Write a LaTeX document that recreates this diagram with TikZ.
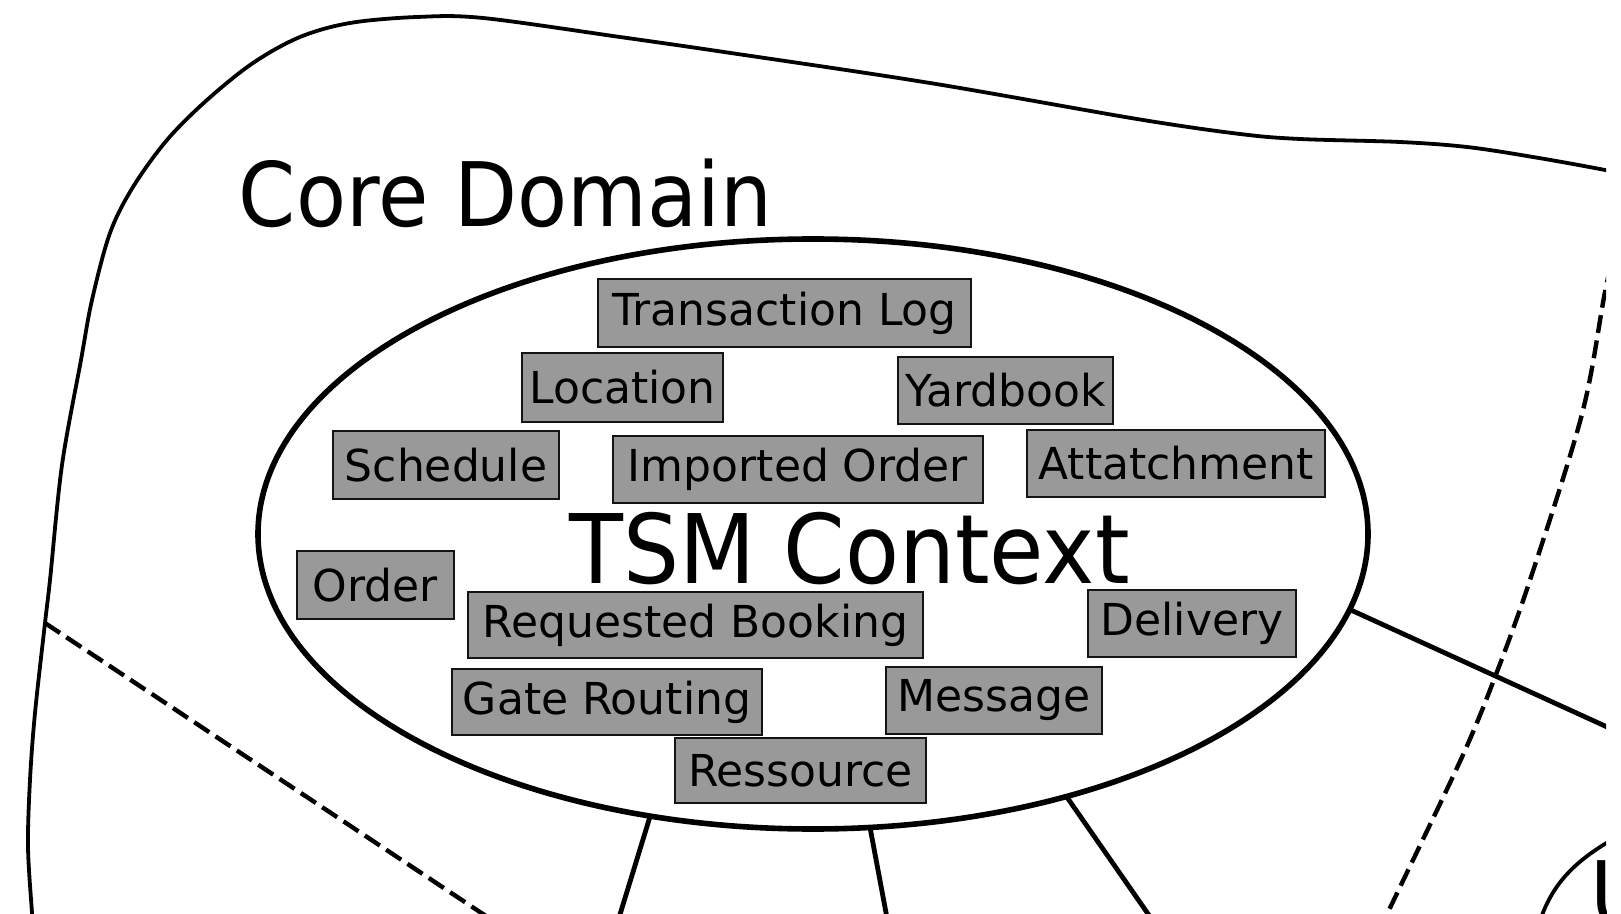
\documentclass[tikz,border=0pt]{standalone}
\usepackage{fontspec}
\setmainfont{DejaVu Sans}
\newfontfamily\narrowsans{DejaVu Sans}[FakeStretch=0.92]
\usetikzlibrary{shapes.geometric}
\definecolor{entityfill}{HTML}{999999}
\definecolor{entityline}{HTML}{141414}
\begin{document}
\begin{tikzpicture}[x=0.5pt,y=-0.5pt,
  boundary/.style={line width=1.9pt, line join=round},
  split/.style={line width=2.2pt, dash pattern=on 9pt off 3.8pt},
  link/.style={line width=2.4pt},
  context/.style={draw, ellipse, line width=2.8pt, inner sep=0pt, outer sep=0pt},
  entity/.style={draw=entityline, fill=entityfill, line width=1.2pt, inner sep=0pt,
                 font=\fontsize{22}{26}\selectfont},
  title/.style={anchor=base west, inner sep=0pt}
]
\useasboundingbox (0,0) rectangle (1621,914);
\begin{scope}
\clip (0,0) rectangle (1606,914);

% domain outline
\draw[boundary] plot[smooth, tension=0.55] coordinates {
  (33,930) (32,913) (28,847) (30,780) (35,713) (45,623) (50,580) (62,465)
  (81,360) (92,300) (110,233) (133,187) (167,140) (207,100) (253,63) (300,37)
  (350,23) (417,17) (483,18) (620,37) (724,52) (930,83) (1137,119) (1240,134)
  (1300,139) (1400,142) (1467,147) (1533,157) (1605,170) (1650,180)};

% subdomain separators
\coordinate (lowjoin) at (45,623);
\coordinate (lowend) at (507,930);
\draw[split] (lowjoin) -- (lowend);
\draw[split] plot[smooth, tension=0.55] coordinates {
  (1622,215) (1605,292) (1582,414) (1530,580) (1495,677) (1462,757)
  (1400,887) (1387,914) (1378,932)};

% neighbouring domain
\draw[boundary] (1536,935) .. controls (1548,885) and (1575,858) .. (1630,830);
\node[title, font=\narrowsans\fontsize{44.5}{50}\selectfont] (ulabel) at (1590,925) {U};

% bounded context
\node[context, minimum width=555pt, minimum height=295pt] (tsm) at (813,534) {};

% context relations
\coordinate (r1) at (614,934);
\coordinate (r2) at (890,934);
\coordinate (r3) at (1162,934);
\coordinate (r4) at (1640,742);
\draw[link] (tsm.-120.1) -- (r1);
\draw[link] (tsm.-79.4) -- (r2);
\draw[link] (tsm.-46.1) -- (r3);
\draw[link] (tsm.-8.2) -- (r4);
\end{scope}

% labels
\node[title, font=\narrowsans\fontsize{44.5}{50}\selectfont] (core) at (238.5,227) {Core Domain};
\node[title, font=\narrowsans\fontsize{48}{54}\selectfont] (tsmlabel) at (569,583) {TSM Context};

% entities
\node[entity, minimum width=186.5pt, minimum height=34pt]   (tlog)      at (784.5,313)   {Transaction Log};
\node[entity, minimum width=100.5pt, minimum height=34.5pt] (location)  at (622.5,387.5) {Location};
\node[entity, minimum width=107.5pt, minimum height=33.5pt] (yardbook)  at (1005.5,390.5) {Yardbook};
\node[entity, minimum width=113pt,   minimum height=34pt]   (schedule)  at (446,465)     {Schedule};
\node[entity, minimum width=185pt,   minimum height=33.5pt] (imported)  at (798,469.5)   {Imported Order};
\node[entity, minimum width=149pt,   minimum height=33.5pt] (attach)    at (1176,463.5)  {Attatchment};
\node[entity, minimum width=78.5pt,  minimum height=34pt]   (order)     at (375.5,585)   {Order};
\node[entity, minimum width=227.5pt, minimum height=33pt]   (requested) at (695.5,625)   {Requested Booking};
\node[entity, minimum width=104pt,   minimum height=33.5pt] (delivery)  at (1192,623.5)  {Delivery};
\node[entity, minimum width=155pt,   minimum height=33pt]   (gate)      at (607,702)     {Gate Routing};
\node[entity, minimum width=108pt,   minimum height=33.5pt] (message)   at (994,700.5)   {Message};
\node[entity, minimum width=125.5pt, minimum height=32.5pt] (ressource) at (800.5,770.5) {Ressource};
\end{tikzpicture}
\end{document}
